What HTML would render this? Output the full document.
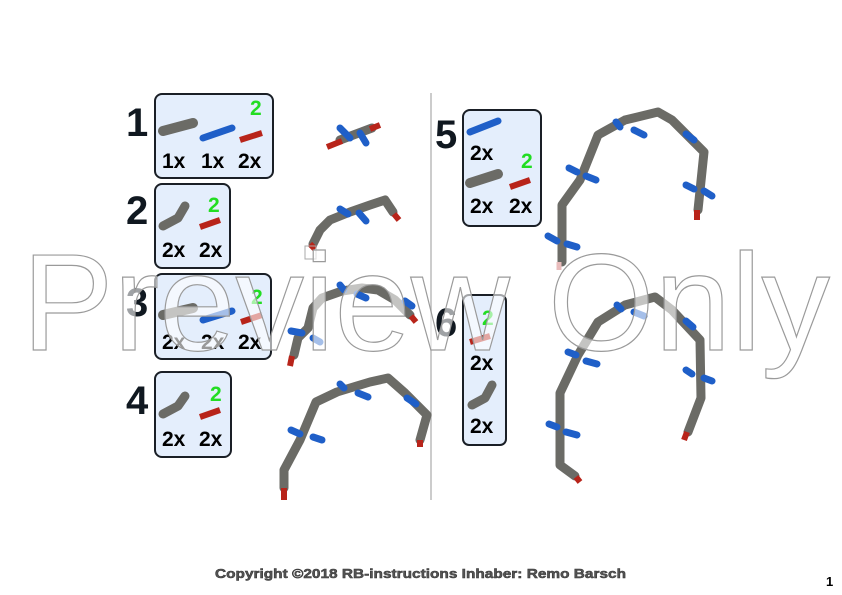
<!DOCTYPE html>
<html><head><meta charset="utf-8"><style>
html,body{margin:0;padding:0;background:#fff;}
svg{display:block;font-family:"Liberation Sans",Arial,sans-serif;}
.n{font-size:40px;font-weight:bold;fill:#101820;}
.q{font-size:21px;font-weight:bold;fill:#000;}
.g{font-size:21px;font-weight:bold;fill:#22dd22;}
.box{fill:#e4eefc;stroke:#1a1f26;stroke-width:2;}
.gr{stroke:#6b6b66;stroke-width:9;fill:none;stroke-linejoin:round;stroke-linecap:round;}
.bl{stroke:#1f5fc8;stroke-width:7;stroke-linecap:round;}
.rd{stroke:#b8241a;stroke-width:6;stroke-linecap:butt;}
</style></head><body>
<svg width="842" height="595" viewBox="0 0 842 595">
<rect width="842" height="595" fill="#fff"/>
<line x1="431" y1="93" x2="431" y2="500" stroke="#bbb" stroke-width="1.5"/>

<!-- step 1 -->
<text class="n" x="126" y="136">1</text>
<rect class="box" x="155" y="94" width="118" height="84" rx="7"/>
<line x1="163" y1="131" x2="193" y2="123" stroke="#6b6b66" stroke-width="10" stroke-linecap="round"/>
<line x1="203" y1="138" x2="232" y2="128" class="bl"/>
<line x1="240" y1="140" x2="262" y2="133" class="rd" stroke-width="8"/>
<text class="g" x="250" y="115">2</text>
<text class="q" x="162" y="168">1x</text><text class="q" x="201" y="168">1x</text><text class="q" x="238" y="168">2x</text>

<line x1="340" y1="140" x2="372" y2="128" class="gr"/>
<line x1="327" y1="147" x2="342" y2="141" class="rd"/>
<line x1="370" y1="129" x2="380" y2="125" class="rd"/>
<line x1="340" y1="128" x2="350" y2="138" class="bl"/>
<line x1="360" y1="133" x2="366" y2="143" class="bl"/>

<!-- step 2 -->
<text class="n" x="126" y="224">2</text>
<rect class="box" x="155" y="184" width="75" height="84" rx="7"/>
<path d="M163 226 L178 218 L185 206" class="gr"/>
<line x1="200" y1="227" x2="220" y2="220" class="rd" stroke-width="8"/>
<text class="g" x="208" y="212">2</text>
<text class="q" x="162" y="257">2x</text><text class="q" x="199" y="257">2x</text>
<path d="M313 244 L320 230 L330 220 L350 212 L370 205 L385 200 L393 212" class="gr"/>
<line x1="310" y1="244" x2="315" y2="249" class="rd"/>
<line x1="394" y1="214" x2="399" y2="220" class="rd"/>
<line x1="340" y1="209" x2="348" y2="214" class="bl"/>
<line x1="359" y1="213" x2="366" y2="221" class="bl"/>
<rect x="305" y="246" width="11" height="13" fill="none" stroke="#aaa"/>

<!-- step 3 -->
<text class="n" x="126" y="316">3</text>
<rect class="box" x="155" y="274" width="116" height="85" rx="7"/>
<line x1="163" y1="315" x2="193" y2="308" stroke="#6b6b66" stroke-width="10" stroke-linecap="round"/>
<line x1="203" y1="320" x2="232" y2="311" class="bl"/>
<line x1="241" y1="322" x2="262" y2="315" class="rd" stroke-width="8"/>
<text class="g" x="251" y="304">2</text>
<text class="q" x="162" y="349">2x</text><text class="q" x="201" y="349">2x</text><text class="q" x="238" y="349">2x</text>
<path d="M294 355 L298 338 L308 328 L313 308 L322 298 L342 291 L362 288 L378 290 L395 300 L410 315" class="gr"/>
<line x1="292" y1="356" x2="290" y2="366" class="rd"/>
<line x1="411" y1="316" x2="416" y2="322" class="rd"/>
<line x1="291" y1="331" x2="302" y2="333" class="bl"/>
<line x1="313" y1="338" x2="320" y2="342" class="bl"/>
<line x1="340" y1="285" x2="344" y2="290" class="bl"/>
<line x1="357" y1="294" x2="366" y2="298" class="bl"/>
<line x1="405" y1="301" x2="412" y2="306" class="bl"/>

<!-- step 4 -->
<text class="n" x="126" y="414">4</text>
<rect class="box" x="155" y="372" width="76" height="85" rx="7"/>
<path d="M163 414 L178 406 L185 396" class="gr"/>
<line x1="200" y1="417" x2="220" y2="410" class="rd" stroke-width="8"/>
<text class="g" x="210" y="401">2</text>
<text class="q" x="162" y="446">2x</text><text class="q" x="199" y="446">2x</text>
<path d="M284 488 L284 470 L300 440 L316 402 L337 392 L370 382 L388 378 L405 393 L427 415 L420 440" class="gr"/>
<line x1="284" y1="488" x2="284" y2="500" class="rd"/>
<line x1="420" y1="440" x2="420" y2="447" class="rd"/>
<line x1="291" y1="430" x2="300" y2="434" class="bl"/>
<line x1="313" y1="437" x2="322" y2="440" class="bl"/>
<line x1="340" y1="384" x2="344" y2="388" class="bl"/>
<line x1="358" y1="393" x2="368" y2="397" class="bl"/>
<line x1="407" y1="398" x2="416" y2="404" class="bl"/>

<!-- step 5 -->
<text class="n" x="435" y="148">5</text>
<rect class="box" x="463" y="110" width="78" height="116" rx="7"/>
<line x1="470" y1="132" x2="498" y2="121" class="bl"/>
<text class="q" x="470" y="160">2x</text>
<line x1="470" y1="183" x2="498" y2="174" stroke="#6b6b66" stroke-width="10" stroke-linecap="round"/>
<line x1="510" y1="187" x2="530" y2="180" class="rd" stroke-width="8"/>
<text class="g" x="521" y="168">2</text>
<text class="q" x="470" y="213">2x</text><text class="q" x="509" y="213">2x</text>
<path d="M562 262 L562 205 L580 180 L598 135 L625 120 L658 112 L672 120 L704 152 L698 210" class="gr"/>
<line x1="697" y1="210" x2="697" y2="220" class="rd"/>
<line x1="559" y1="262" x2="559" y2="270" stroke="#e9bcbc" stroke-width="5"/>
<line x1="548" y1="236" x2="557" y2="241" class="bl"/>
<line x1="567" y1="244" x2="577" y2="247" class="bl"/>
<line x1="569" y1="168" x2="577" y2="172" class="bl"/>
<line x1="586" y1="176" x2="596" y2="180" class="bl"/>
<line x1="616" y1="122" x2="620" y2="127" class="bl"/>
<line x1="634" y1="130" x2="644" y2="135" class="bl"/>
<line x1="686" y1="134" x2="694" y2="140" class="bl"/>
<line x1="686" y1="185" x2="694" y2="189" class="bl"/>
<line x1="704" y1="191" x2="712" y2="196" class="bl"/>

<!-- step 6 -->
<text class="n" x="435" y="336">6</text>
<rect class="box" x="463" y="295" width="43" height="150" rx="6"/>
<line x1="470" y1="342" x2="490" y2="336" class="rd" stroke-width="8"/>
<text class="g" x="482" y="325">2</text>
<text class="q" x="470" y="370">2x</text>
<path d="M472 405 L485 398 L492 385" class="gr"/>
<text class="q" x="470" y="433">2x</text>
<path d="M575 476 L560 465 L560 393 L578 355 L598 322 L625 305 L655 297 L672 310 L700 340 L701 398 L688 432" class="gr"/>
<line x1="576" y1="477" x2="580" y2="482" class="rd"/>
<line x1="687" y1="432" x2="684" y2="440" class="rd"/>
<line x1="549" y1="424" x2="557" y2="427" class="bl"/>
<line x1="566" y1="432" x2="577" y2="435" class="bl"/>
<line x1="568" y1="352" x2="576" y2="355" class="bl"/>
<line x1="586" y1="361" x2="597" y2="364" class="bl"/>
<line x1="617" y1="305" x2="621" y2="309" class="bl"/>
<line x1="634" y1="312" x2="644" y2="316" class="bl"/>
<line x1="686" y1="321" x2="693" y2="327" class="bl"/>
<line x1="686" y1="370" x2="692" y2="374" class="bl"/>
<line x1="704" y1="378" x2="712" y2="381" class="bl"/>

<!-- watermark -->
<text x="22" y="350" font-size="138" textLength="808" lengthAdjust="spacingAndGlyphs" fill="#fff" fill-opacity="0.6" stroke="#9a9a9a" stroke-width="1.2">Preview Only</text>

<text x="215" y="578" font-size="13" font-weight="bold" fill="#555" stroke="#333" stroke-width="0.5" textLength="411" lengthAdjust="spacingAndGlyphs">Copyright ©2018 RB-instructions Inhaber: Remo Barsch</text>
<text x="826" y="586" font-size="13" font-weight="bold" fill="#000">1</text>
</svg>
</body></html>
